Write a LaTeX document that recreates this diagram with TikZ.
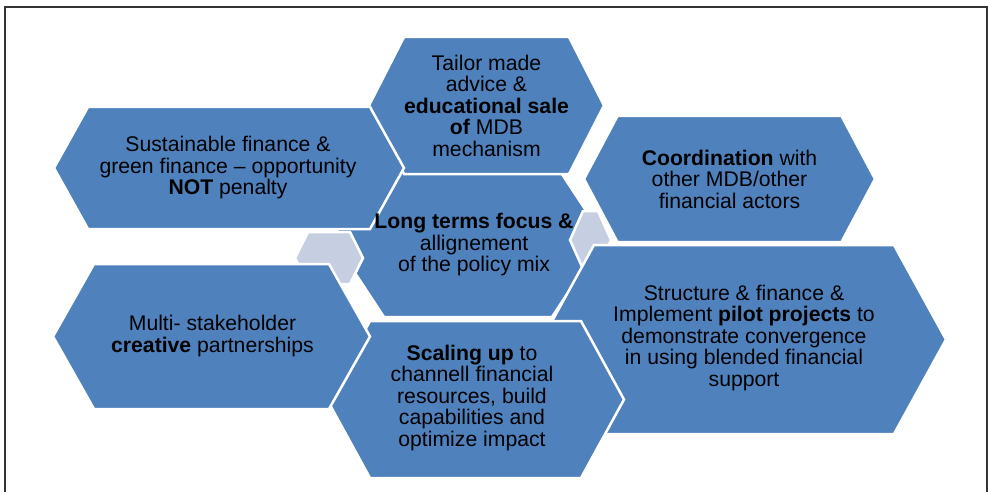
\documentclass[tikz,border=0pt]{standalone}
\usepackage{fontspec}
\setmainfont{Liberation Sans}
\usepackage{xcolor}
\usepackage{tikz}

\definecolor{hexblue}{RGB}{79,129,189}
\definecolor{hexpale}{RGB}{198,207,225}

% #1,#2 centre, #3 half width, #4 inset of the tips, #5 half height, #6 fill
\newcommand{\hexcell}[6]{%
  \filldraw[fill=#6,draw=white,line width=2.5pt,line join=miter]
    (#1-#3,#2) -- (#1-#3+#4,#2-#5) -- (#1+#3-#4,#2-#5) --
    (#1+#3,#2) -- (#1+#3-#4,#2+#5) -- (#1-#3+#4,#2+#5) -- cycle;}

\begin{document}
\begin{tikzpicture}[x=1pt,y=-1pt,
  hexlabel/.style={align=center,inner sep=0pt,text=black,
    font=\fontsize{21.2}{21.5}\selectfont}]
\useasboundingbox (0,0) rectangle (988,492);
% Frame
\draw[line width=1.5pt,black!80](5,500)--(5,7)--(987,7)--(987,500);
% Middle cell and the two small ones lying over it
\hexcell{468}{238}{136}{52}{79}{hexblue}
\hexcell{329}{258}{34}{13}{26}{hexpale}
\hexcell{590.5}{240}{20.5}{13}{29}{hexpale}
% Outer cells
\hexcell{486.5}{105.5}{117.5}{35}{68.5}{hexblue}
\hexcell{229}{168}{175}{34}{61}{hexblue}
\hexcell{729.5}{179}{145.5}{33.5}{63}{hexblue}
\hexcell{744}{339.5}{202}{52}{94.5}{hexblue}
\hexcell{475.5}{399.5}{148.5}{43}{78.5}{hexblue}
\hexcell{211.5}{336.5}{158.5}{41}{72.5}{hexblue}
% Texts
\node[hexlabel] (tailor) at (486.5,105.5)
  {Tailor made\\advice \&\\\textbf{educational sale}\\\textbf{of} MDB\\mechanism};
\node[hexlabel] (green) at (228,168)
  {Sustainable finance \&\\green finance -- opportunity\\\textbf{NOT} penalty};
\node[hexlabel] (coord) at (729.5,179)
  {\textbf{Coordination} with\\other MDB/other\\financial actors};
\node[hexlabel] (focus) at (474,245)
  {\textbf{Long terms focus \&}\\allignement\\of the policy mix};
\node[hexlabel] (multi) at (212.5,336)
  {Multi- stakeholder\\\textbf{creative} partnerships};
\node[hexlabel] (scale) at (472,398)
  {\textbf{Scaling up} to\\channell financial\\resources, build\\capabilities and\\optimize impact};
\node[hexlabel] (pilot) at (744,338)
  {Structure \& finance \&\\Implement \textbf{pilot projects} to\\demonstrate convergence\\in using blended financial\\support};
\end{tikzpicture}
\end{document}
